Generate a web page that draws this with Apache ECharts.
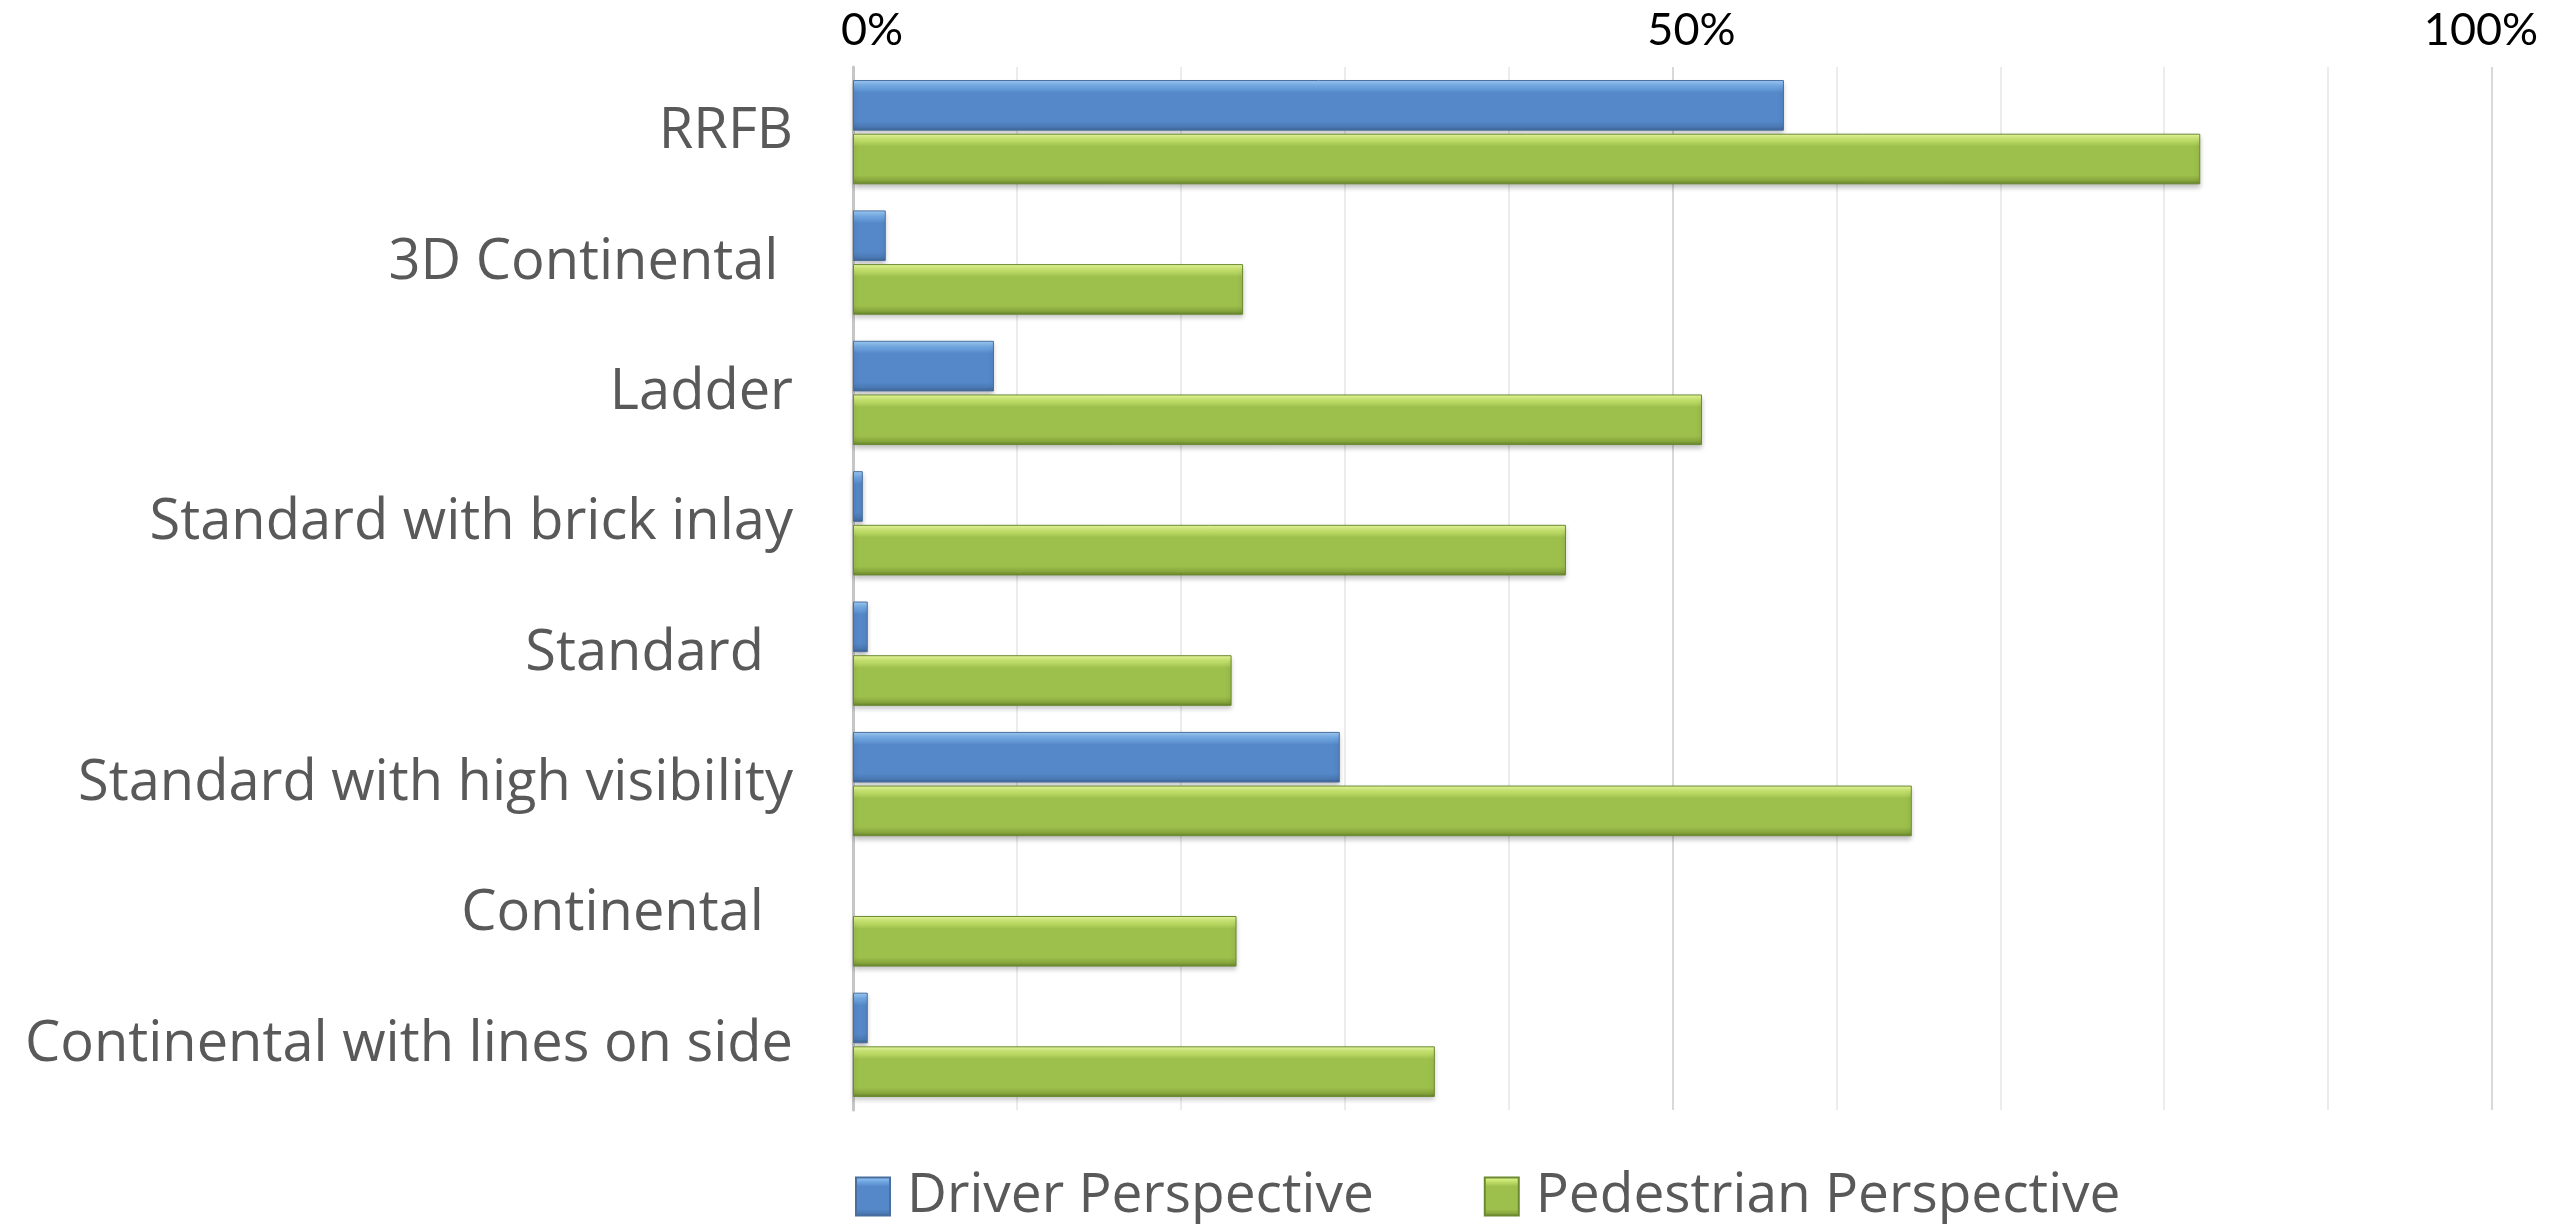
<!DOCTYPE html>
<html>
<head>
<meta charset="utf-8">
<title>Crosswalk perspective</title>
<script src="https://cdn.jsdelivr.net/npm/echarts@6/dist/echarts.min.js"></script>
<style>
  html, body { margin: 0; padding: 0; background: #ffffff; }
  #chart { width: 2552px; height: 1224px; }
</style>
</head>
<body>
<div id="chart"></div>
<script>
// categories, top to bottom (trailing spaces kept as in the original labels)
var categories = [
  'RRFB',
  '3D Continental ',
  'Ladder',
  'Standard with brick inlay',
  'Standard  ',
  'Standard with high visibility',
  'Continental  ',
  'Continental with lines on side'
]
var seriesNames = ['Driver Perspective', 'Pedestrian Perspective']
// percent values
var driverValues = [56.8, 2.0, 8.6, 0.6, 0.9, 29.7, 0, 0.9]
var pedestrianValues = [82.2, 23.8, 51.8, 43.5, 23.1, 64.6, 23.4, 35.5]
var tickLabels = [0, 50, 100]

// bevel look: light top edge, dark bottom edge
function barFill(top, light, main, dark, bottom) {
  return new echarts.graphic.LinearGradient(0, 0, 0, 1, [
    { offset: 0, color: top },
    { offset: 0.12, color: light },
    { offset: 0.25, color: main },
    { offset: 0.82, color: main },
    { offset: 0.93, color: dark },
    { offset: 1, color: bottom }
  ])
}

// zero bars get no border so no hairline shows
function barData(values) {
  return values.map(function (v) {
    if (v === 0) {
      return { value: v, itemStyle: { borderWidth: 0, shadowBlur: 0, shadowOffsetY: 0 } }
    }
    return v
  })
}

var blueFill = barFill('#a3d0fa', '#72a9e4', '#5588c8', '#4a78b3', '#3d6190')
var greenFill = barFill('#ecfda0', '#c4e26c', '#9dbf4c', '#85a53c', '#62802b')

var myChart = echarts.init(document.getElementById('chart'))
myChart.setOption({
  animation: false,
  grid: {
    left: 853,
    right: 60,
    top: 67,
    bottom: 114
  },
  legend: {
    left: 850,
    top: 1164,
    itemWidth: 34,
    itemHeight: 38,
    itemGap: 110,
    textStyle: {
      fontFamily: 'Open Sans',
      fontSize: 55,
      color: '#595959',
      padding: [0, 0, 0, 12]
    },
    data: [
      { name: seriesNames[0], icon: 'rect' },
      { name: seriesNames[1], icon: 'rect' }
    ]
  },
  xAxis: {
    type: 'value',
    position: 'top',
    min: 0,
    max: 100,
    interval: 50,
    axisLine: { show: false },
    axisTick: { show: false },
    axisLabel: {
      margin: 14,
      fontFamily: 'Lato',
      fontSize: 45,
      color: '#000000',
      formatter: function (v) {
        if (tickLabels.indexOf(v) < 0) return ''
        // edge labels sit a little off the gridline, as in the original
        return v === 100 ? '{r|' + v + '%}' : '{l|' + v + '%}'
      },
      rich: {
        l: { fontFamily: 'Lato', fontSize: 45, color: '#000000', padding: [0, 0, 0, 38] },
        r: { fontFamily: 'Lato', fontSize: 45, color: '#000000', padding: [0, 22, 0, 0] }
      }
    },
    splitLine: {
      show: true,
      lineStyle: { color: '#d9d9d9', width: 2 }
    },
    minorTick: { show: false, splitNumber: 5 },
    minorSplitLine: {
      show: true,
      lineStyle: { color: '#ececec', width: 2 }
    }
  },
  yAxis: {
    type: 'category',
    inverse: true,
    data: categories,
    axisLine: {
      show: true,
      lineStyle: { color: '#c6c6c6', width: 3 }
    },
    axisTick: { show: false },
    axisLabel: {
      margin: 60,
      fontFamily: 'Open Sans',
      fontSize: 56,
      color: '#595959'
    }
  },
  series: [
    {
      name: seriesNames[0],
      type: 'bar',
      data: barData(driverValues),
      barCategoryGap: '20%',
      barGap: '6%',
      itemStyle: {
        color: blueFill,
        borderColor: '#4a6f9e',
        borderWidth: 1,
        shadowColor: 'rgba(0,0,0,0.25)',
        shadowBlur: 5,
        shadowOffsetY: 3
      }
    },
    {
      name: seriesNames[1],
      type: 'bar',
      data: barData(pedestrianValues),
      barCategoryGap: '20%',
      barGap: '6%',
      itemStyle: {
        color: greenFill,
        borderColor: '#6b8a32',
        borderWidth: 1,
        shadowColor: 'rgba(0,0,0,0.25)',
        shadowBlur: 5,
        shadowOffsetY: 3
      }
    }
  ]
})
</script>
</body>
</html>
